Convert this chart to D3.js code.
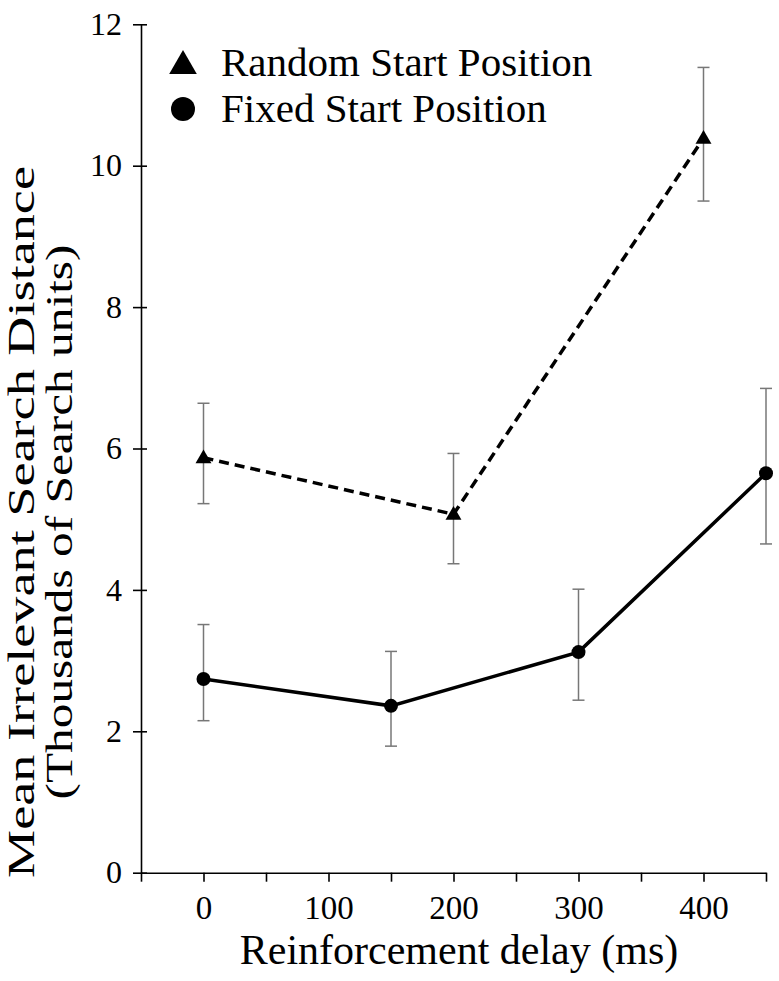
<!DOCTYPE html>
<html>
<head>
<meta charset="utf-8">
<script src="https://cdn.jsdelivr.net/npm/d3@7"></script>
<style>
  body { margin: 0; background: #fff; }
  svg { display: block; }
  svg text { font-family: "Liberation Serif", "DejaVu Serif", serif; fill: #000; }
</style>
</head>
<body>
<svg id="chart" width="779" height="981"></svg>
<script>
// data (thousands of search units)
const randomDelay = [0, 200, 400];
const randomMean  = [5.87, 5.07, 10.39];
const randomHi    = [6.64, 5.93, 11.39];
const randomLo    = [5.22, 4.37, 9.50];

const fixedDelay = [0, 150, 300, 450];
const fixedMean  = [2.74, 2.36, 3.12, 5.65];
const fixedHi    = [3.51, 3.13, 4.01, 6.85];
const fixedLo    = [2.15, 1.79, 2.44, 4.65];

const xTicks = [-50, 0, 50, 100, 150, 200, 250, 300, 350, 400, 450];
const xLabels = [0, 100, 200, 300, 400];
const yTicks = [0, 2, 4, 6, 8, 10, 12];

const legendNames = ["Random Start Position", "Fixed Start Position"];

const svg = d3.select("#chart");
const plotLeft = 141, plotRight = 766, plotTop = 24.3, plotBottom = 872.7;

const x = d3.scaleLinear().domain([-50, 450]).range([plotLeft, plotRight]);
const y = d3.scaleLinear().domain([0, 12]).range([plotBottom, plotTop]);

// y axis, ticks cross the line
const yAxis = svg.append("g")
  .attr("transform", "translate(" + plotLeft + ",0)")
  .call(d3.axisLeft(y).tickValues(yTicks).tickSize(8).tickPadding(11).tickSizeOuter(0));
yAxis.attr("font-family", null);
yAxis.selectAll(".tick").append("line").attr("x2", 6).attr("stroke", "#000");
yAxis.select(".domain").attr("stroke-width", 1.6);
yAxis.selectAll(".tick line").attr("stroke-width", 1.6);
yAxis.selectAll("text").style("font-size", "32px");

// x axis
const xAxis = svg.append("g")
  .attr("transform", "translate(0," + plotBottom + ")")
  .call(d3.axisBottom(x).tickValues(xTicks).tickSize(9).tickPadding(14).tickSizeOuter(0)
    .tickFormat(d => xLabels.includes(d) ? d : ""));
xAxis.attr("font-family", null);
xAxis.select(".domain").attr("stroke-width", 1.6);
xAxis.selectAll(".tick line").attr("stroke-width", 1.6);
xAxis.selectAll("text").style("font-size", "33px");

// axis titles
svg.append("text")
  .attr("x", 459).attr("y", 964)
  .attr("text-anchor", "middle")
  .style("font-size", "42px")
  .text("Reinforcement delay (ms)");

// the y title in the reference is drawn stretched along its length
const yTitle = svg.append("text")
  .attr("transform", "translate(0,522) rotate(-90)")
  .attr("text-anchor", "middle")
  .style("font-size", "38px");
yTitle.append("tspan").attr("x", 0).attr("y", 34)
  .attr("textLength", 712).attr("lengthAdjust", "spacingAndGlyphs")
  .text("Mean Irrelevant Search Distance");
yTitle.append("tspan").attr("x", 0).attr("y", 72)
  .attr("textLength", 555).attr("lengthAdjust", "spacingAndGlyphs")
  .text("(Thousands of Search units)");

// lines
const line = d3.line().x(d => x(d[0])).y(d => y(d[1]));
const randomPts = randomDelay.map((d, i) => [d, randomMean[i]]);
const fixedPts = fixedDelay.map((d, i) => [d, fixedMean[i]]);

svg.append("path").datum(randomPts).attr("d", line)
  .attr("fill", "none").attr("stroke", "#000").attr("stroke-width", 3.5)
  .attr("stroke-dasharray", "10,6");
svg.append("path").datum(fixedPts).attr("d", line)
  .attr("fill", "none").attr("stroke", "#000").attr("stroke-width", 3.5);

// error bars
function errorBars(delays, hi, lo) {
  const g = svg.append("g").attr("stroke", "#777").attr("stroke-width", 1.5);
  delays.forEach((d, i) => {
    g.append("line").attr("x1", x(d)).attr("x2", x(d)).attr("y1", y(hi[i])).attr("y2", y(lo[i]));
    g.append("line").attr("x1", x(d) - 6).attr("x2", x(d) + 6).attr("y1", y(hi[i])).attr("y2", y(hi[i]));
    g.append("line").attr("x1", x(d) - 6).attr("x2", x(d) + 6).attr("y1", y(lo[i])).attr("y2", y(lo[i]));
  });
}
errorBars(randomDelay, randomHi, randomLo);
errorBars(fixedDelay, fixedHi, fixedLo);

// markers
const tri = d3.symbol().type(d3.symbolTriangle).size(110);
svg.selectAll(".tri").data(randomPts).enter().append("path")
  .attr("d", tri)
  .attr("transform", d => "translate(" + x(d[0]) + "," + (y(d[1]) + 1) + ")")
  .attr("fill", "#000");
svg.selectAll(".dot").data(fixedPts).enter().append("circle")
  .attr("cx", d => x(d[0])).attr("cy", d => y(d[1])).attr("r", 7)
  .attr("fill", "#000");

// legend
const leg = svg.append("g");
leg.append("path").attr("d", d3.symbol().type(d3.symbolTriangle).size(330))
  .attr("transform", "translate(183,66)").attr("fill", "#000");
leg.append("circle").attr("cx", 183).attr("cy", 109).attr("r", 12).attr("fill", "#000");
leg.selectAll(".lt").data(legendNames).enter().append("text")
  .attr("x", 221).attr("y", (d, i) => 76 + i * 46)
  .style("font-size", "41px")
  .text(d => d);
</script>
</body>
</html>
